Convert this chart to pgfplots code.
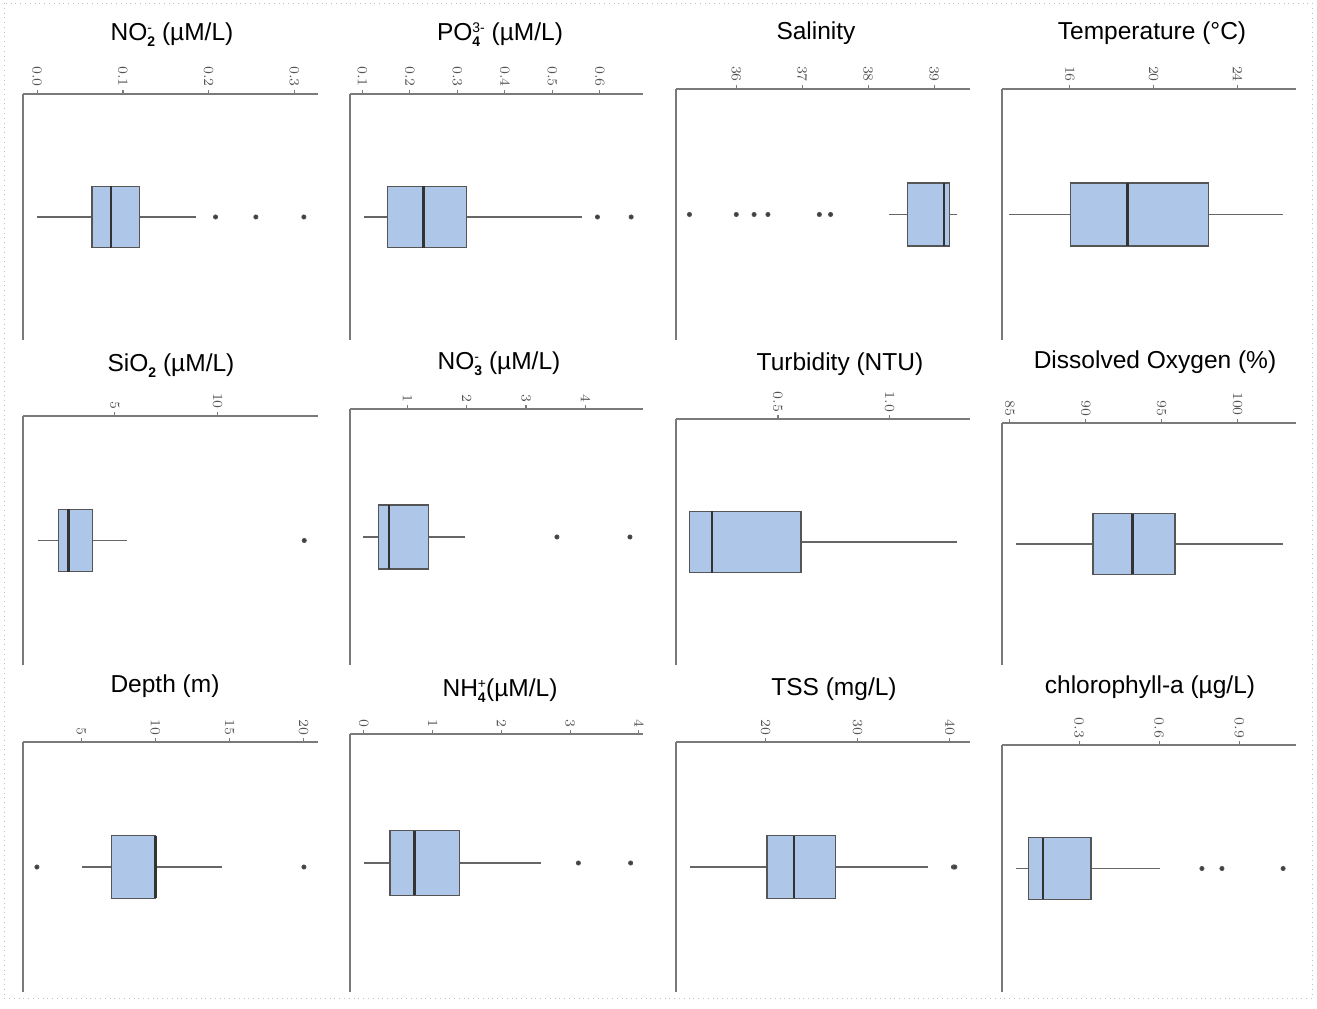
\documentclass[border=0pt]{standalone}
\usepackage{pgfplots}
\pgfplotsset{compat=1.18}
\usepgfplotslibrary{statistics}
\usepackage{fontspec}
\setmainfont{Liberation Sans}
\definecolor{boxfill}{HTML}{AEC7E8}
\definecolor{boxedge}{HTML}{555555}
\definecolor{axisgray}{HTML}{7A7A7A}
\definecolor{tickgray}{HTML}{555555}
\newcommand\supx[1]{\raisebox{0.62ex}{\fontsize{7}{7}\selectfont #1}}
\newcommand\subx[1]{\raisebox{-0.45ex}{\fontsize{7}{7}\selectfont\bfseries #1}}
\newcommand\subsup[2]{\begingroup\setbox0=\hbox{\supx{#2}}\setbox2=\hbox{\subx{#1}}\ifdim\wd0>\wd2 \rlap{\box2}\box0\else\rlap{\box0}\box2\fi\endgroup}
\pgfplotsset{panel/.style={
  scale only axis, clip=false, anchor=south west,
  axis x line=top, axis y line=left,
  axis line style={-, draw=axisgray, line width=0.75bp},
  ymin=0, ymax=2, ytick=\empty,
  tick align=outside, major tick length=2bp,
  x tick style={draw=axisgray, line width=0.6bp},
  xticklabel shift=-2bp,
  xticklabel style={rotate=-90, anchor=east, font=\fontsize{6.8}{7}\selectfont, text=tickgray},
  boxplot/draw direction=x,
  boxplot/box extend=0.5,
  boxplot/whisker extend=0,
  boxplot/draw position=1,
  boxplot/every box/.style={draw=boxedge, fill=boxfill, line width=0.65bp},
  boxplot/every whisker/.style={draw=black!60, line width=0.55bp},
  boxplot/every median/.style={draw=black!80, line width=1.4bp},
},
bx/.style={boxedge, mark=*, mark size=1.05bp, mark options={fill=black!75, draw=none}}}
\begin{document}
\begin{tikzpicture}[x=0.5bp,y=0.5bp]
\useasboundingbox (0,0) rectangle (1317,1008);
\draw[gray!50, dotted, line width=0.4bp] (4,1005) rectangle (1312,10);
\tikzset{ttl/.style={anchor=base, font=\fontsize{12.3}{14}\selectfont}}
% titles
\node[ttl] at (172,967) {NO\subsup{2}{-} (µM/L)};
\node[ttl] at (500,967) {PO\subsup{4}{3-} (µM/L)};
\node[ttl] at (816,968.5) {Salinity};
\node[ttl] at (1152,968.5) {Temperature (°C)};
\node[ttl] at (171,636.3) {SiO\subx{2} (µM/L)};
\node[ttl] at (499,638.7) {NO\subsup{3}{-} (µM/L)};
\node[ttl] at (840,637.3) {Turbidity (NTU)};
\node[ttl] at (1155,639.7) {Dissolved Oxygen (\%)};
\node[ttl] at (165,315.7) {Depth (m)};
\node[ttl] at (500,311.3) {NH\subsup{4}{+}(µM/L)};
\node[ttl] at (834,313) {TSS (mg/L)};
\node[ttl] at (1150,314.7) {chlorophyll-a (µg/L)};
% Row 1
\begin{axis}[panel, at={(11.5bp,334bp)}, width=147.5bp, height=123bp, xmin=-0.0166, xmax=0.3275,
  xtick={0,0.1,0.2,0.3}, xticklabels={$0.0$,$0.1$,$0.2$,$0.3$}]
\addplot[bx, boxplot prepared={lower whisker=0.0, lower quartile=0.064, median=0.086, upper quartile=0.1195, upper whisker=0.185}]
  coordinates {(0,0.208) (0,0.255) (0,0.311)};
\end{axis}
\begin{axis}[panel, at={(175bp,334bp)}, width=146.5bp, height=123bp, xmin=0.074, xmax=0.691,
  xtick={0.1,0.2,0.3,0.4,0.5,0.6}, xticklabels={$0.1$,$0.2$,$0.3$,$0.4$,$0.5$,$0.6$}]
\addplot[bx, boxplot prepared={lower whisker=0.103, lower quartile=0.153, median=0.228, upper quartile=0.319, upper whisker=0.563}]
  coordinates {(0,0.595) (0,0.666)};
\end{axis}
\begin{axis}[panel, at={(338bp,334bp)}, width=147bp, height=125.5bp, xmin=35.086, xmax=39.545,
  xtick={36,37,38,39}, xticklabels={$36$,$37$,$38$,$39$}]
\addplot[bx, boxplot prepared={lower whisker=38.31, lower quartile=38.60, median=39.15, upper quartile=39.23, upper whisker=39.34}]
  coordinates {(0,35.29) (0,36.0) (0,36.27) (0,36.48) (0,37.26) (0,37.43)};
\end{axis}
\begin{axis}[panel, at={(501bp,334bp)}, width=147bp, height=125.5bp, xmin=12.76, xmax=26.8,
  xtick={16,20,24}, xticklabels={$16$,$20$,$24$}]
\addplot[bx, boxplot prepared={lower whisker=13.07, lower quartile=16.03, median=18.74, upper quartile=22.62, upper whisker=26.17}]
  coordinates {};
\end{axis}
% Row 2
\begin{axis}[panel, at={(11.5bp,171.5bp)}, width=147.5bp, height=124.5bp, xmin=0.533, xmax=14.89,
  xtick={5,10}, xticklabels={$5$,$10$}]
\addplot[bx, boxplot prepared={lower whisker=1.24, lower quartile=2.26, median=2.73, upper quartile=3.91, upper whisker=5.58}]
  coordinates {(0,14.22)};
\end{axis}
\begin{axis}[panel, at={(175bp,171.5bp)}, width=146.5bp, height=128bp, xmin=0.035, xmax=4.97,
  xtick={1,2,3,4}, xticklabels={$1$,$2$,$3$,$4$}]
\addplot[bx, boxplot prepared={lower whisker=0.26, lower quartile=0.51, median=0.69, upper quartile=1.36, upper whisker=1.98}]
  coordinates {(0,3.52) (0,4.75)};
\end{axis}
\begin{axis}[panel, at={(338bp,171.5bp)}, width=147bp, height=123bp, xmin=0.043, xmax=1.361,
  xtick={0.5,1.0}, xticklabels={$0.5$,$1.0$}]
\addplot[bx, boxplot prepared={lower whisker=0.104, lower quartile=0.104, median=0.204, upper quartile=0.603, upper whisker=1.301}]
  coordinates {};
\end{axis}
\begin{axis}[panel, at={(501bp,171.5bp)}, width=147bp, height=121bp, xmin=84.49, xmax=103.84,
  xtick={85,90,95,100}, xticklabels={$85$,$90$,$95$,$100$}]
\addplot[bx, boxplot prepared={lower whisker=85.4, lower quartile=90.48, median=93.1, upper quartile=95.88, upper whisker=102.96}]
  coordinates {};
\end{axis}
% Row 3
\begin{axis}[panel, at={(11.5bp,8bp)}, width=147.5bp, height=125bp, xmin=1.06, xmax=20.97,
  xtick={5,10,15,20}, xticklabels={$5$,$10$,$15$,$20$}]
\addplot[bx, boxplot prepared={lower whisker=5.04, lower quartile=7.02, median=10.0, upper quartile=10.0, upper whisker=14.47}]
  coordinates {(0,2.0) (0,20.02)};
\end{axis}
\begin{axis}[panel, at={(175bp,8bp)}, width=146.5bp, height=129bp, xmin=-0.2, xmax=4.06,
  xtick={0,1,2,3,4}, xticklabels={$0$,$1$,$2$,$3$,$4$}]
\addplot[bx, boxplot prepared={lower whisker=0.0, lower quartile=0.38, median=0.735, upper quartile=1.39, upper whisker=2.58}]
  coordinates {(0,3.12) (0,3.88)};
\end{axis}
\begin{axis}[panel, at={(338bp,8bp)}, width=147bp, height=125bp, xmin=10.28, xmax=42.2,
  xtick={20,30,40}, xticklabels={$20$,$30$,$40$}]
\addplot[bx, boxplot prepared={lower whisker=11.83, lower quartile=20.15, median=23.08, upper quartile=27.56, upper whisker=37.6}]
  coordinates {(0,40.4) (0,40.55)};
\end{axis}
\begin{axis}[panel, at={(501bp,8bp)}, width=147bp, height=123.5bp, xmin=0.0113, xmax=1.1125,
  xtick={0.3,0.6,0.9}, xticklabels={$0.3$,$0.6$,$0.9$}]
\addplot[bx, boxplot prepared={lower whisker=0.063, lower quartile=0.110, median=0.165, upper quartile=0.344, upper whisker=0.603}]
  coordinates {(0,0.76) (0,0.835) (0,1.064)};
\end{axis}
\end{tikzpicture}
\end{document}
